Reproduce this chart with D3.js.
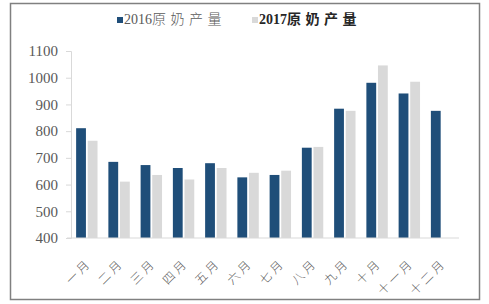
<!DOCTYPE html>
<html>
<head>
<meta charset="utf-8">
<script src="https://cdn.jsdelivr.net/npm/d3@7"></script>
<style>
  body { margin: 0; background: #fff; }
  svg { display: block; }
</style>
</head>
<body>
<div id="chart"></div>
<script>
// Monthly raw milk output
var months = ["一月", "二月", "三月", "四月", "五月", "六月", "七月", "八月", "九月", "十月", "十一月", "十二月"];
var seriesYears = ["2016", "2017"];
var seriesName = "原奶产量";
var values2016 = [811, 685, 673, 662, 680, 627, 636, 738, 884, 981, 941, 876];
var values2017 = [764, 611, 636, 619, 662, 644, 652, 741, 876, 1046, 985, null];
var yTicks = [400, 500, 600, 700, 800, 900, 1000, 1100];

var colors = ["#1f4e79", "#d9d9d9"];

var W = 489, H = 304;
var svg = d3.select("#chart").append("svg")
    .attr("width", W)
    .attr("height", H);

// outer frame
svg.append("rect")
    .attr("x", 10.5).attr("y", 3.5)
    .attr("width", 469).attr("height", 296)
    .attr("fill", "none")
    .attr("stroke", "#808080")
    .attr("stroke-width", 1.5);

var x = d3.scaleBand()
    .domain(months)
    .range([71, 458]);

var y = d3.scaleLinear()
    .domain([400, 1100])
    .range([238, 51]);

// data table for grouped bars
var data = [];
months.forEach(function(m, i) {
    data.push({month: m, s: 0, v: values2016[i]});
    if (values2017[i] != null) data.push({month: m, s: 1, v: values2017[i]});
});

var barW = 9.8;
svg.append("g").selectAll("rect")
    .data(data)
    .enter().append("rect")
    .attr("x", function(d) {
        var c = x(d.month) + x.bandwidth() / 2;
        return d.s === 0 ? c - 11 : c + 0.6;
    })
    .attr("y", function(d) { return y(d.v); })
    .attr("width", barW)
    .attr("height", function(d) { return y(400) - y(d.v); })
    .attr("fill", function(d) { return colors[d.s]; });

// y axis
var yAxis = svg.append("g")
    .attr("transform", "translate(71,0)")
    .call(d3.axisLeft(y).tickValues(yTicks).tickFormat(d3.format("d")).tickSize(5).tickPadding(8));
yAxis.select(".domain").attr("stroke", "#d9d9d9");
yAxis.selectAll(".tick line").attr("stroke", "#d9d9d9");
yAxis.selectAll("text")
    .attr("fill", "#595959")
    .style("font-family", "'Liberation Serif', 'Times New Roman', serif")
    .style("font-size", "15px");

// x axis
var xAxis = svg.append("g")
    .attr("transform", "translate(0,238)")
    .call(d3.axisBottom(x).tickSize(0).tickPadding(0));
xAxis.select(".domain").remove();
svg.append("line")
    .attr("x1", 67).attr("x2", 459)
    .attr("y1", 238).attr("y2", 238)
    .attr("stroke", "#d9d9d9")
    .attr("stroke-width", 1.2);
xAxis.selectAll("text")
    .attr("fill", "#595959")
    .attr("text-anchor", "end")
    .attr("y", 0)
    .attr("dy", 0)
    .attr("transform", "translate(5,26) rotate(-45)")
    .style("letter-spacing", "3px")
    .style("font-family", "'Noto Sans CJK SC', sans-serif")
    .style("font-weight", "300")
    .style("font-size", "12px");

// legend
var legend = svg.append("g");
var legendX = [117, 252];
seriesYears.forEach(function(yr, i) {
    legend.append("rect")
        .attr("x", legendX[i]).attr("y", 17)
        .attr("width", 6).attr("height", 6)
        .attr("fill", colors[i]);
    var t = legend.append("text")
        .attr("x", legendX[i] + 7).attr("y", 24)
        .attr("fill", i === 0 ? "#595959" : "#262626")
        .style("font-weight", i === 0 ? "normal" : "bold")
        .style("font-size", "14px");
    t.append("tspan")
        .style("font-family", "'Liberation Serif', serif")
        .text(yr);
    t.append("tspan")
        .style("font-family", "'Noto Sans CJK SC', sans-serif")
        .style("font-weight", i === 0 ? "300" : "bold")
        .style("letter-spacing", "4.5px")
        .text(seriesName);
});
</script>
</body>
</html>
